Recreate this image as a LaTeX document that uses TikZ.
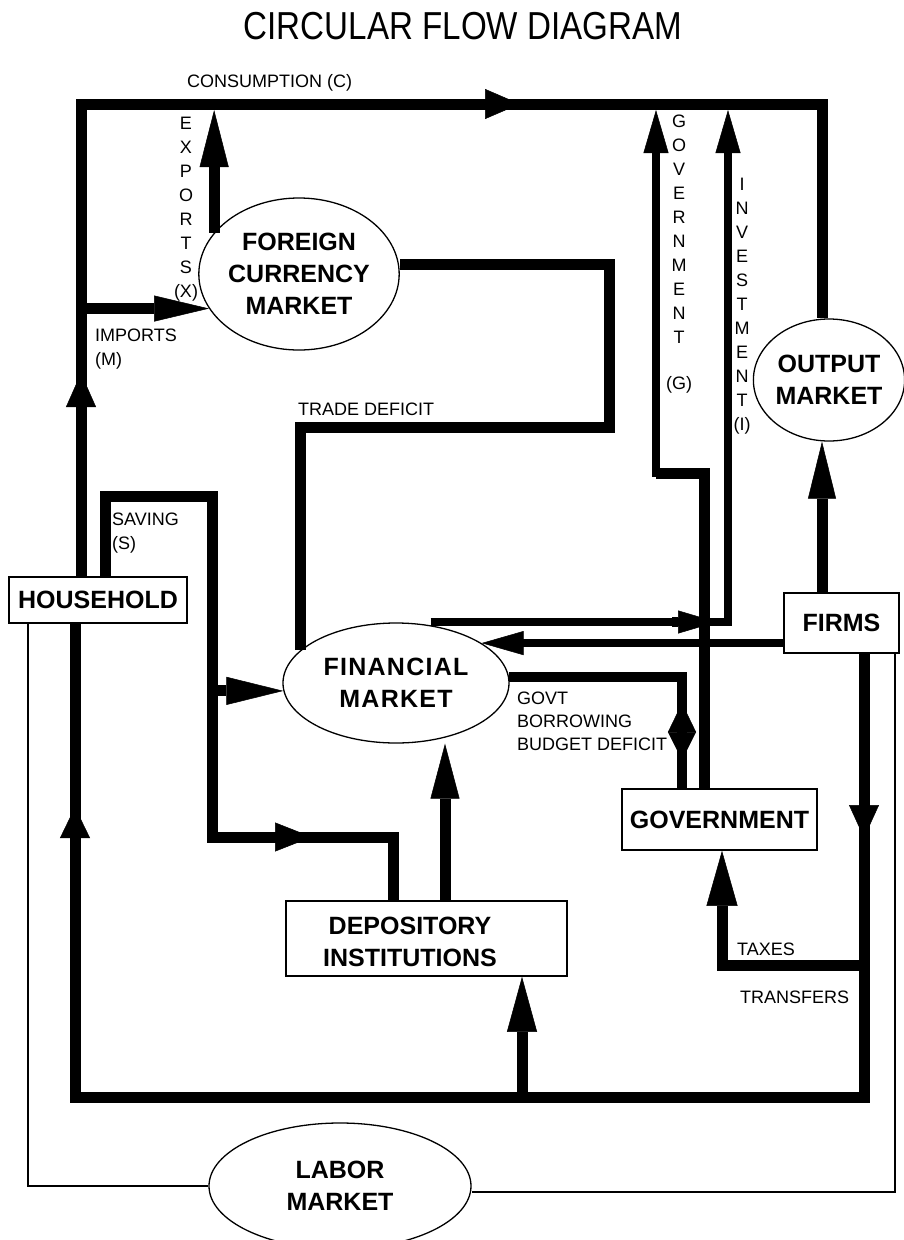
\documentclass[tikz,border=0pt]{standalone}
\usepackage{fontspec}
\usepackage{graphicx}
\setmainfont{Liberation Sans}
\usetikzlibrary{arrows.meta,shapes.geometric}
\begin{document}
\begin{tikzpicture}[x=1pt,y=-1pt,
  flow/.style={line width=11pt},
  midflow/.style={line width=9.5pt},
  thinflow/.style={line width=8pt},
  link/.style={line width=1.5pt},
  arr/.style 2 args={-{Triangle[length=#1,width=#2,line width=0.5pt]}},
  box/.style={draw, line width=1.5pt, rectangle, fill=white, inner sep=0pt,
    font=\bfseries\fontsize{25}{32}\selectfont, align=center},
  oval/.style={draw, line width=1.3pt, ellipse, fill=white, inner sep=0pt,
    font=\bfseries\fontsize{25}{32}\selectfont, align=center},
  lbl/.style={inner sep=0pt, font=\fontsize{18}{24}\selectfont, align=left},
  vlbl/.style={inner sep=0pt, anchor=north, font=\fontsize{18}{24}\selectfont, align=center},
]
% canvas
\fill[white] (0,0) rectangle (904,1240);
\useasboundingbox (0,0) rectangle (904,1240);

% title
\node[inner sep=0pt, font=\fontsize{39}{44}\selectfont] (title) at (463,26)
  {\scalebox{0.85}[1]{CIRCULAR FLOW DIAGRAM}};

% sectors and markets
\node[box, minimum width=178pt, minimum height=46pt] (household) at (98,600) {HOUSEHOLD};
\node[box, minimum width=115pt, minimum height=60pt] (firms) at (841.5,623) {FIRMS};
\node[box, minimum width=195pt, minimum height=61pt] (gov) at (719.5,819.5) {GOVERNMENT};
\node[box, minimum width=281pt, minimum height=75pt] (depo) at (426.5,938.5) {};
\node[inner sep=0pt, font=\bfseries\fontsize{25}{32}\selectfont, align=center] (depotext)
  at (410,942) {DEPOSITORY\\INSTITUTIONS};
\node[oval, minimum width=194pt, minimum height=152pt] (foreign) at (299,274) {FOREIGN\\CURRENCY\\MARKET};
\node[oval, minimum width=226pt, minimum height=120pt,
  font=\bfseries\fontsize{25}{32}\selectfont\addfontfeature{LetterSpace=5}] (fin) at (396,683) {FINANCIAL\\MARKET};
\node[oval, minimum width=150pt, minimum height=122pt] (output) at (829,380) {OUTPUT\\MARKET};
\node[oval, minimum width=262pt, minimum height=126pt] (labor) at (340,1186) {LABOR\\MARKET};

% corner and junction points
\coordinate (tl) at (81,104);
\coordinate (tr) at (822,104);
\coordinate (ctop) at (0,110);
\coordinate (ctip) at (520,104);
\coordinate (hup) at (81,373);
\coordinate (bl) at (75,1097);
\coordinate (br) at (864,1097);
\coordinate (hlow) at (75,807);
\coordinate (fdown) at (864,838);
\coordinate (td1) at (301,427);
\coordinate (td2) at (609,264);
\coordinate (sv1) at (105,496);
\coordinate (sv2) at (212,496);
\coordinate (sv3) at (212,837);
\coordinate (svtip) at (312,837);
\coordinate (sv4) at (393,837);
\coordinate (dpup) at (445,0);
\coordinate (dpin) at (522,0);
\coordinate (tx) at (722,965);
\coordinate (fo) at (822,0);
\coordinate (iv) at (728,622);
\coordinate (ivtip) at (717,622);
\coordinate (g1) at (704,473);
\coordinate (g2) at (656,473);
\coordinate (b1) at (682,0);
\coordinate (bu) at (682,703);
\coordinate (bd) at (682,760);
\coordinate (lb1) at (28,1186);
\coordinate (lb2) at (895,1192);

% household spending: consumption loop to the output market
\draw[flow] (tl |- household.north) -- (tl) -- (tr) -- (tr |- output.north);
\draw[flow, arr={34pt}{30pt}] ([yshift=-40pt]hup) -- (hup);
\draw[flow, arr={35pt}{30pt}] ([xshift=-40pt]ctip) -- (ctip);

% foreign sector
\draw[flow, arr={55pt}{26pt}] (tl |- foreign.201) -- (foreign.201);
\draw[flow, arr={57pt}{29pt}] (foreign.154) -- (foreign.154 |- ctop);
\draw[flow] (fin.161) -- (fin.161 |- td1) -- (td2 |- td1) -- (td2) -- (foreign.east |- td2);

% saving
\draw[flow] (sv1 |- household.north) -- (sv1) -- (sv2) -- (sv3) -- (sv4) -- (sv4 |- depo.north);
\draw[flow, arr={37pt}{29pt}] ([xshift=-42pt]svtip) -- (svtip);
\draw[flow, arr={57pt}{28pt}] (sv2 |- fin.184) -- (fin.184);
\draw[flow, arr={55pt}{29pt}] (dpup |- depo.north) -- (dpup |- fin.south);

% income loop: firms to households
\draw[flow] (br |- firms.south) -- (br) -- (bl) -- (bl |- household.south);
\draw[flow, arr={33pt}{30pt}] ([yshift=40pt]fdown) -- (fdown);
\draw[flow, arr={31pt}{30pt}] ([yshift=-40pt]hlow) -- (hlow);
\draw[flow, arr={55pt}{30pt}] (dpin |- bl) -- (dpin |- depo.south);

% taxes and transfers
\draw[flow, arr={55pt}{31pt}] (br |- tx) -- (tx) -- (tx |- gov.south);

% firms
\draw[flow, arr={57pt}{28pt}] (fo |- firms.north) -- (fo |- output.south);
\draw[thinflow, arr={42pt}{24pt}] (firms.west |- fin.25) -- (fin.25);

% investment
\draw[thinflow, arr={43pt}{25pt}] (iv -| fin.59) -- (iv) -- (iv |- ctop);
\draw[midflow, arr={39pt}{23pt}] ([xshift=-45pt]ivtip) -- (ivtip);

% government purchases
\draw[flow] (g1 |- gov.north) -- (g1) -- (g2);
\draw[thinflow, line cap=rect, arr={43pt}{25pt}] (g2) -- (g2 |- ctop);

% government borrowing
\draw[midflow] (fin.3) -- (b1 |- fin.3) -- (b1 |- gov.north);
\draw[midflow, {Triangle[length=29pt,width=28pt,line width=0.5pt]}-{Triangle[length=28pt,width=28pt,line width=0.5pt]}] (bu) -- (bd);

% labor market links
\draw[link] (lb1 |- household.south) -- (lb1) -- (labor.west);
\draw[link] (lb2 |- firms.south) -- (lb2) -- (labor.east |- lb2);

% flow labels
\node[lbl, anchor=base west] (lcons) at (187,87) {CONSUMPTION (C)};
\node[lbl, anchor=north west] (limp) at (95,329) {IMPORTS\\(M)};
\node[lbl, anchor=north west] (lsav) at (112,513) {SAVING\\(S)};
\node[lbl, anchor=base west] (ltrade) at (298,415) {TRADE DEFICIT};
\node[lbl, anchor=north west, font=\fontsize{18}{23}\selectfont] (lborrow) at (517,692)
  {GOVT\\BORROWING\\BUDGET DEFICIT};
\node[lbl, anchor=base west] (ltax) at (737,955) {TAXES};
\node[lbl, anchor=base west] (ltrans) at (740,1003) {TRANSFERS};
\node[vlbl] (lexp) at (186,117) {E\\X\\P\\O\\R\\T\\S\\(X)};
\node[vlbl] (lgov) at (679,115) {G\\O\\V\\E\\R\\N\\M\\E\\N\\T\\[22pt](G)};
\node[vlbl] (linv) at (742,178) {I\\N\\V\\E\\S\\T\\M\\E\\N\\T\\(I)};
\end{tikzpicture}
\end{document}
